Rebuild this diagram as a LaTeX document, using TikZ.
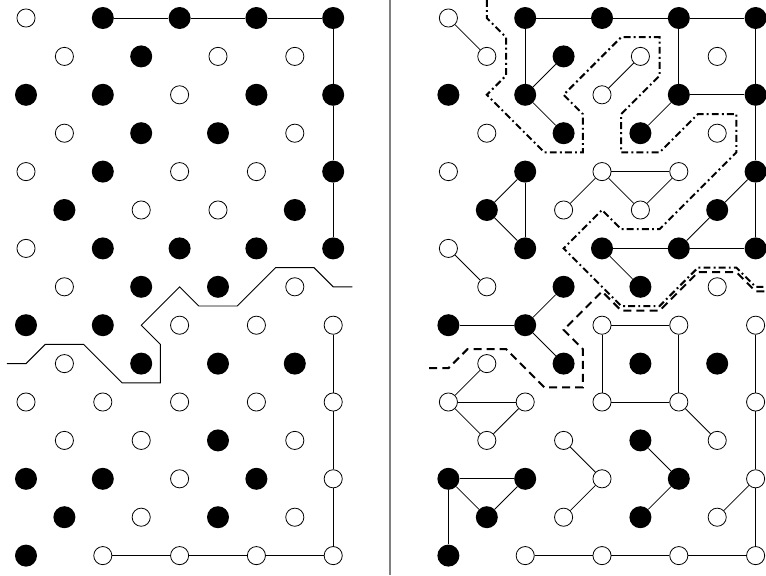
\documentclass[tikz,border=0pt]{standalone}
\begin{document}
\begin{tikzpicture}[x=28.8pt,y=-28.8pt,
  bnode/.style={circle,fill=black,minimum size=16.5pt,inner sep=0pt},
  wnode/.style={circle,draw=black,fill=white,minimum size=13.6pt,inner sep=0pt,line width=0.6pt},
  edge/.style={line width=0.6pt,black},
  wall/.style={line width=0.7pt,black},
  dashdotline/.style={line width=1.5pt,dash pattern=on 5.2pt off 2.4pt on 1.4pt off 2.4pt},
  dashline/.style={line width=1.5pt,dash pattern=on 6pt off 3.8pt},
  divider/.style={line width=1.1pt,gray}]
\useasboundingbox (-0.6771,-0.46875) rectangle (19.2708,14.5052);
\fill[white] (-0.6771,-0.46875) rectangle (19.2708,14.5052);
% divider
\coordinate (dtop) at (9.479,-0.46875);
\coordinate (dbot) at (9.479,14.5052);
\draw[divider] (dtop) -- (dbot);
% black nodes
\foreach \c/\r in {2/0,4/0,6/0,8/0,3/1,0/2,2/2,6/2,8/2,3/3,5/3,2/4,8/4,1/5,7/5,2/6,4/6,6/6,8/6,3/7,5/7,0/8,2/8,3/9,5/9,7/9,5/11,0/12,2/12,6/12,1/13,5/13,0/14}{
  \node[bnode] (L-\c-\r) at (\c,\r) {};
  \node[bnode] (R-\c-\r) at (\c+11,\r) {};
}
% white nodes
\foreach \c/\r in {0/0,1/1,5/1,7/1,4/2,1/3,7/3,0/4,4/4,6/4,3/5,5/5,0/6,1/7,7/7,4/8,6/8,8/8,1/9,0/10,2/10,4/10,6/10,8/10,1/11,3/11,7/11,4/12,8/12,3/13,7/13,2/14,4/14,6/14,8/14}{
  \node[wnode] (L-\c-\r) at (\c,\r) {};
  \node[wnode] (R-\c-\r) at (\c+11,\r) {};
}
% left panel walls
\foreach \a/\b/\c/\d in {2/0/4/0,4/0/6/0,6/0/8/0,8/0/8/2,8/2/8/4,8/4/8/6,8/8/8/10,8/10/8/12,8/12/8/14,2/14/4/14,4/14/6/14,6/14/8/14}{
  \draw[wall] (L-\a-\b) -- (L-\c-\d);
}
% left panel interface
\draw[line width=0.7pt] (-0.5,9) -- (0,9) -- (0.5,8.5) -- (1.5,8.5) -- (2.5,9.5) -- (3.5,9.5) -- (3.5,8.5) -- (3,8) -- (4,7) -- (4.5,7.5) -- (5.5,7.5) -- (6.5,6.5) -- (7.5,6.5) -- (8,7) -- (8.5,7);
% right panel edges
\foreach \a/\b/\c/\d in {0/0/1/1,2/0/4/0,4/0/6/0,6/0/8/0,2/0/2/2,2/2/3/1,2/2/3/3,5/1/4/2,6/0/6/2,6/2/8/2,8/0/8/2,8/2/8/4,8/4/8/6,6/2/5/3,4/4/6/4,4/4/3/5,4/4/5/5,6/4/5/5,2/4/1/5,2/4/2/6,1/5/2/6,8/4/7/5,7/5/6/6,0/6/1/7,4/6/6/6,6/6/8/6,4/6/5/7,3/7/2/8,0/8/2/8,2/8/3/9,4/8/6/8,4/8/4/10,6/8/6/10,8/8/8/10,1/9/0/10,0/10/2/10,0/10/1/11,1/11/2/10,4/10/6/10,6/10/7/11,8/10/8/12,8/12/8/14,3/11/4/12,4/12/3/13,5/11/6/12,6/12/5/13,0/12/2/12,0/12/1/13,1/13/2/12,0/12/0/14,8/12/7/13,2/14/4/14,4/14/6/14,6/14/8/14}{
  \draw[edge] (R-\a-\b) -- (R-\c-\d);
}
% right panel dash-dot boundary
\begin{scope}[shift={(11,0)}]
\draw[dashdotline] (1,-0.47) -- (1,0) -- (1.5,0.5) -- (1.5,1.5) -- (1,2) -- (2.5,3.5) -- (3.5,3.5) -- (3.5,2.5) -- (3,2) -- (4.5,0.5) -- (5.5,0.5) -- (5.5,1.5) -- (4.5,2.5) -- (4.5,3.5) -- (5.5,3.5) -- (6.5,2.5) -- (7.5,2.5) -- (7.5,3.5) -- (5.5,5.5) -- (4.5,5.5) -- (4,5) -- (3,6) -- (4.5,7.5) -- (5.5,7.5) -- (6.5,6.5) -- (7.5,6.5) -- (8,7) -- (8.5,7);
\end{scope}
\begin{scope}[shift={(11,0.12)}]
\draw[dashline] (-0.5,9) -- (0,9) -- (0.5,8.5) -- (1.5,8.5) -- (2.5,9.5) -- (3.5,9.5) -- (3.5,8.5) -- (3,8) -- (4,7) -- (4.5,7.5) -- (5.5,7.5) -- (6.5,6.5) -- (7.5,6.5) -- (8,7) -- (8.5,7);
\end{scope}
\end{tikzpicture}
\end{document}
